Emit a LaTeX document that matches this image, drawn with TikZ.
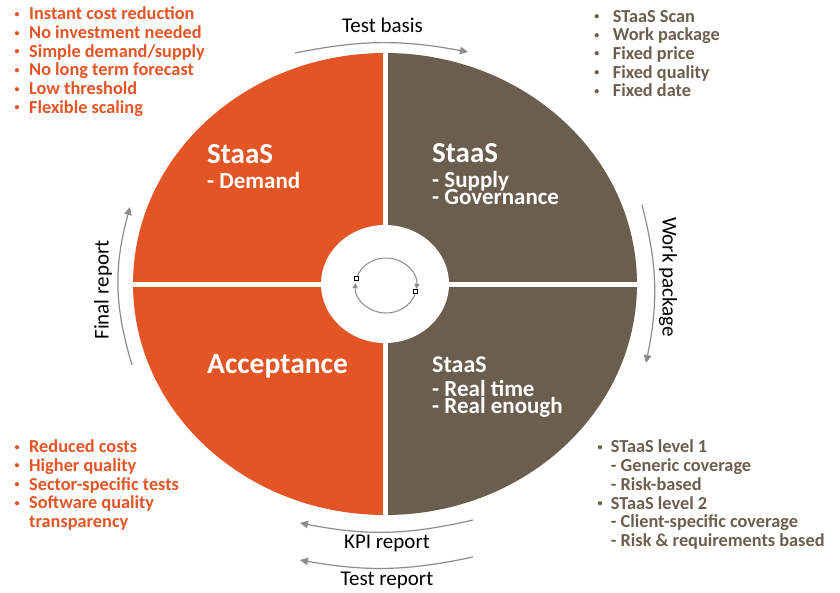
\documentclass[tikz,border=0pt]{standalone}
\usepackage{fontspec}
\setmainfont{Carlito}
\usetikzlibrary{arrows.meta}
\definecolor{staasorange}{RGB}{228,85,38}
\definecolor{staasbrown}{RGB}{107,94,79}
\definecolor{cyclegray}{RGB}{140,140,140}
\lineskiplimit=-\maxdimen
\newcommand{\bul}[1]{\makebox[#1][l]{\fontsize{10}{10}\selectfont\raisebox{2.5pt}{\textbullet}}}

\begin{document}
\begin{tikzpicture}[x=1pt,y=1pt]
        \tikzstyle{orangelist}=[anchor=base west, inner sep=0pt, align=left,
            text=staasorange, font=\fontsize{18.3}{18.65}\selectfont\bfseries]
        \tikzstyle{brownlist}=[anchor=base west, inner sep=0pt, align=left,
            text=staasbrown, font=\fontsize{18.3}{18.7}\selectfont\bfseries]
        \tikzstyle{quadtitle}=[anchor=base west, inner sep=0pt, text=white,
            font=\fontsize{29}{29}\selectfont\bfseries]
        \tikzstyle{quadsub}=[anchor=base west, inner sep=0pt, align=left,
            text=white, font=\fontsize{23}{17}\selectfont\bfseries]
        \tikzstyle{cyclelabel}=[inner sep=0pt, text=black,
            font=\fontsize{21}{21}\selectfont]
        \tikzstyle{cyclearrow}=[draw=cyclegray, line width=1.2pt,
            -{Triangle[length=8pt,width=7.5pt]}]
        \tikzstyle{innerarrow}=[draw=cyclegray, line width=1pt,
            -{Triangle[length=5pt,width=5pt]}]
        \tikzstyle{handle}=[draw=black, fill=white, rectangle,
            minimum size=4pt, inner sep=0pt, line width=0.6pt]

        \useasboundingbox (0,0) rectangle (840,-592);
        \coordinate (c) at (385,-284);

        % quadrants
        \fill[staasorange] (c) -- ++(-252,0)
            arc[start angle=180, end angle=90, x radius=252, y radius=231] -- cycle;
        \fill[staasbrown] (c) -- ++(0,231)
            arc[start angle=90, end angle=0, x radius=252, y radius=231] -- cycle;
        \fill[staasbrown] (c) -- ++(252,0)
            arc[start angle=0, end angle=-90, x radius=252, y radius=231] -- cycle;
        \fill[staasorange] (c) -- ++(0,-231)
            arc[start angle=-90, end angle=-180, x radius=252, y radius=231] -- cycle;
        \draw[white, line width=5pt] ([yshift=240]c) -- ([yshift=-240]c);
        \draw[white, line width=5pt] ([xshift=-260]c) -- ([xshift=260]c);
        \fill[white] (c) ellipse[x radius=64, y radius=59];

        % inner cycle
        \coordinate (ic) at (386,-285.5);
        \draw[innerarrow] (ic) ++(164:30.5 and 27.5)
            arc[start angle=164, end angle=-7, x radius=30.5, y radius=27.5];
        \draw[innerarrow] (ic) ++(-13:30.5 and 27.5)
            arc[start angle=-13, end angle=-185, x radius=30.5, y radius=27.5];
        \node[handle] (h1) at (356.7,-277.9) {};
        \node[handle] (h2) at (415.7,-291.7) {};

        % quadrant texts
        \node[quadtitle] (tltitle) at (207,-163) {StaaS};
        \node[quadsub] (tlsub) at (207,-188) {- Demand};
        \node[quadtitle] (trtitle) at (432,-162) {StaaS};
        \node[quadsub] (trsub) at (432,-204) {- Supply\\- Governance};
        \node[quadtitle, font=\fontsize{29.5}{29.5}\selectfont\bfseries]
            (bltitle) at (207,-373) {Acceptance};
        \node[quadtitle, font=\fontsize{24}{24}\selectfont\bfseries]
            (brtitle) at (432,-372) {StaaS};
        \node[quadsub, font=\fontsize{23}{16.5}\selectfont\bfseries]
            (brsub) at (432,-413) {- Real time\\- Real enough};

        % outer cycle
        \coordinate (tb1) at (295,-53);
        \coordinate (tb2) at (468,-52);
        \coordinate (wp1) at (642,-205);
        \coordinate (wp2) at (646,-363);
        \coordinate (kpi1) at (473,-520);
        \coordinate (kpi2) at (300,-523);
        \coordinate (tr1) at (473,-557);
        \coordinate (tr2) at (300,-560);
        \coordinate (fr1) at (132,-365);
        \coordinate (fr2) at (130,-207);
        \draw[cyclearrow] (tb1) to[bend left=11] (tb2);
        \draw[cyclearrow] (wp1) to[bend left=13] (wp2);
        \draw[cyclearrow] (kpi1) to[bend left=12] (kpi2);
        \draw[cyclearrow] (tr1) to[bend left=11] (tr2);
        \draw[cyclearrow] (fr1) to[bend left=16] (fr2);
        \node[cyclelabel, anchor=base] (testbasis) at (382.5,-32) {Test basis};
        \node[cyclelabel, rotate=-90] (workpackage) at (668,-277) {Work package};
        \node[cyclelabel, anchor=base] (kpireport) at (387,-548) {KPI report};
        \node[cyclelabel, anchor=base] (testreport) at (387,-585) {Test report};
        \node[cyclelabel, rotate=90] (finalreport) at (103,-290) {Final report};

        % side lists (anchored at the last line)
        \node[orangelist] (benefits) at (14.5,-113.2) {\bul{14.5pt}Instant cost reduction\\
            \bul{14.5pt}No investment needed\\
            \bul{14.5pt}Simple demand/supply\\
            \bul{14.5pt}No long term forecast\\
            \bul{14.5pt}Low threshold\\
            \bul{14.5pt}Flexible scaling};
        \node[brownlist] (deliver) at (594.2,-96.8) {\bul{18.5pt}STaaS Scan\\
            \bul{18.5pt}Work package\\
            \bul{18.5pt}Fixed price\\
            \bul{18.5pt}Fixed quality\\
            \bul{18.5pt}Fixed date};
        \node[orangelist] (results) at (14.5,-527.3) {\bul{14.5pt}Reduced costs\\
            \bul{14.5pt}Higher quality\\
            \bul{14.5pt}Sector-specific tests\\
            \bul{14.5pt}Software quality\\
            \hspace*{14.5pt}transparency};
        \node[brownlist, font=\fontsize{18.3}{18.8}\selectfont\bfseries]
            (levels) at (597.5,-546.7) {\bul{13.2pt}STaaS level 1\\
            \hspace*{13.2pt}- Generic coverage\\
            \hspace*{13.2pt}- Risk-based\\
            \bul{13.2pt}STaaS level 2\\
            \hspace*{13.2pt}- Client-specific coverage\\
            \hspace*{13.2pt}- Risk \& requirements based};

    \end{tikzpicture}
\end{document}
